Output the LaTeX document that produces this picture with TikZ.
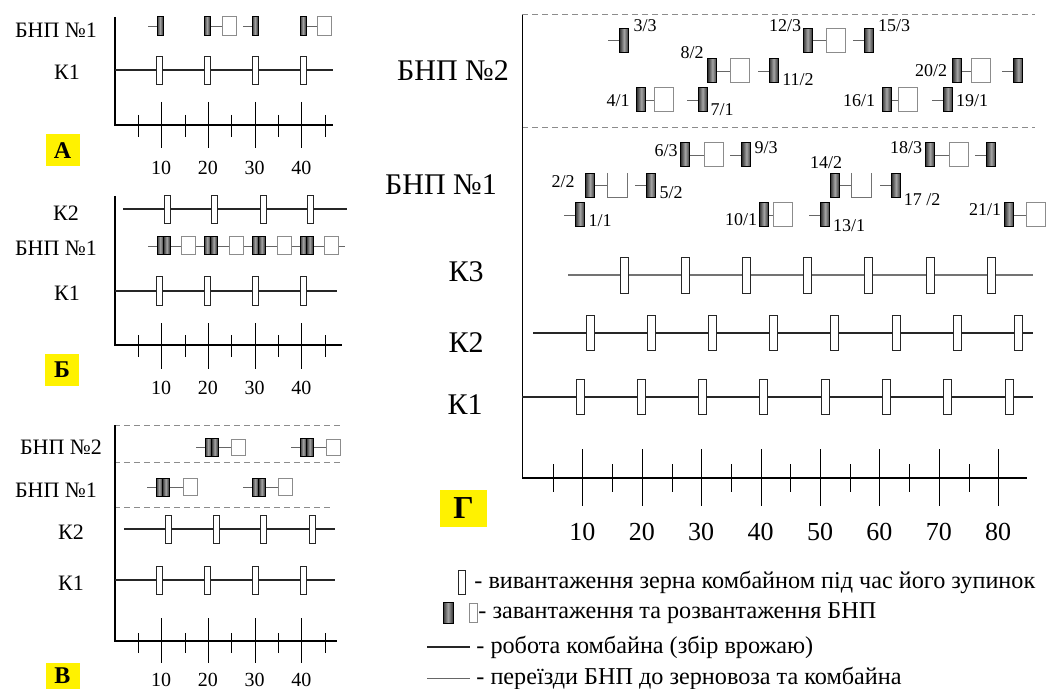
\documentclass[tikz,border=0pt]{standalone}
\usepackage{fontspec}
\setmainfont{Liberation Serif}

\begin{document}
\begin{tikzpicture}[x=0.5pt,y=-0.5pt,
  unl/.style={draw=black!85,fill=white,line width=0.5pt,minimum width=3pt,minimum height=14pt,inner sep=0pt},
  ld/.style={draw=black,line width=0.5pt,left color=black!80,right color=black!80,middle color=black!35,minimum width=3pt,minimum height=9.5pt,inner sep=0pt},
  ldd/.style={ld,minimum width=3.25pt,minimum height=9pt},
  ud/.style={draw=black!45,fill=white,line width=0.5pt,minimum width=7pt,minimum height=9.5pt,inner sep=0pt},
  unlG/.style={unl,minimum width=4pt,minimum height=17.5pt},
  ldG/.style={ld,minimum width=4.5pt,minimum height=12pt},
  udG/.style={ud,minimum width=9.5pt,minimum height=12pt},
  work/.style={line width=0.7pt,black!85},
  move/.style={line width=0.45pt,black!60},
  sep/.style={line width=0.5pt,black!45,dash pattern=on 3pt off 2pt},
  ax/.style={line width=0.75pt},
  tk/.style={line width=0.5pt},
  lbl/.style={inner sep=0pt,font=\fontsize{11}{13}\selectfont},
  lblG/.style={inner sep=0pt,font=\fontsize{15}{17}\selectfont},
  num/.style={inner sep=0pt,font=\fontsize{10}{12}\selectfont},
  numG/.style={inner sep=0pt,font=\fontsize{13}{15}\selectfont},
  sm/.style={inner sep=0pt,font=\fontsize{9}{11}\selectfont},
  leg/.style={inner sep=0pt,anchor=west,font=\fontsize{12.1}{14}\selectfont},
  tag/.style={fill=yellow,inner sep=0pt,minimum width=17pt,minimum height=16pt,font=\bfseries\fontsize{12}{14}\selectfont}]
  \useasboundingbox (0,0) rectangle (1047,689);
  % ===================== панель А =====================
  \draw[ax] (115,17) -- (115,125) -- (333,125);
  \foreach \t in {10,20,30,40} {\draw[tk] ({round(114.5+4.67*\t)+0.5},102) -- ({round(114.5+4.67*\t)+0.5},148); \node[num] (A-n\t) at ({114.5+4.67*\t},168) {\t};}
  \foreach \t in {5,15,25,35,45} \draw[tk] ({round(114.5+4.67*\t)+0.5},115) -- ({round(114.5+4.67*\t)+0.5},137);
  % комбайн К1
  \coordinate (A-k1a) at (115,70); \coordinate (A-k1b) at (333,70);
  \draw[work] (A-k1a) -- (A-k1b);
  \foreach \x [count=\i] in {159,207,255,303} \node[unl] (A-k1-\i) at (\x,71) {};
  \node[lbl] (A-lk1) at (67,72) {К1};
  % БНП №1
  \node[lbl] (A-lb1) at (56,30) {БНП №1};
  \node[ld] (A-d1) at (160,26) {};
  \node[ld] (A-d2) at (207,26) {}; \node[ud] (A-u2) at (229,26) {};
  \node[ld] (A-d3) at (255,26) {};
  \node[ld] (A-d4) at (303,26) {}; \node[ud] (A-u4) at (324,26) {};
  \draw[move] (A-d1.west) -- ++(-9,0);
  \draw[move] (A-d2) -- (A-u2);
  \draw[move] (A-d3.west) -- ++(-9,0);
  \draw[move] (A-d4) -- (A-u4);
  \node[tag] (A-tag) at (62.5,150.5) {А};
  % ===================== панель Б =====================
  \draw[ax] (115,196) -- (115,345) -- (342,345);
  \foreach \t in {10,20,30,40} {\draw[tk] ({round(114.5+4.67*\t)+0.5},323) -- ({round(114.5+4.67*\t)+0.5},369); \node[num] (B-n\t) at ({114.5+4.67*\t},388) {\t};}
  \foreach \t in {5,15,25,35,45} \draw[tk] ({round(114.5+4.67*\t)+0.5},335) -- ({round(114.5+4.67*\t)+0.5},357);
  % комбайн К2
  \coordinate (B-k2a) at (123,209); \coordinate (B-k2b) at (347,209);
  \draw[work] (B-k2a) -- (B-k2b);
  \foreach \x [count=\i] in {167,214,263,310} \node[unl] (B-k2-\i) at (\x,209.5) {};
  \node[lbl] (B-lk2) at (66,213) {К2};
  % БНП №1
  \coordinate (B-ba) at (148,246); \coordinate (B-bb) at (345,246);
  \draw[move] (B-ba) -- (B-bb);
  \foreach \x [count=\i] in {157,204,252,300} {\node[ldd] (B-d\i a) at (\x+3.25,246) {}; \node[ldd] (B-d\i b) at (\x+9.75,246) {};}
  \foreach \x [count=\i] in {188,236,284,331.5} \node[ud,minimum height=9pt] (B-u\i) at (\x,246) {};
  \node[lbl] (B-lb1) at (56,248) {БНП №1};
  % комбайн К1
  \coordinate (B-k1a) at (115,291); \coordinate (B-k1b) at (337,291);
  \draw[work] (B-k1a) -- (B-k1b);
  \foreach \x [count=\i] in {159,207,255,303} \node[unl] (B-k1-\i) at (\x,291) {};
  \node[lbl] (B-lk1) at (67,293) {К1};
  \node[tag] (B-tag) at (62,369.5) {Б};
  % ===================== панель В =====================
  \draw[sep] (114,425) -- (343,425);
  \draw[sep] (114,462) -- (343,462);
  \draw[sep] (114,507) -- (333,507);
  \draw[ax] (115,425) -- (115,641) -- (337,641);
  \foreach \t in {10,20,30,40} {\draw[tk] ({round(114.5+4.67*\t)+0.5},618) -- ({round(114.5+4.67*\t)+0.5},663); \node[num] (C-n\t) at ({114.5+4.67*\t},680) {\t};}
  \foreach \t in {5,15,25,35,45} \draw[tk] ({round(114.5+4.67*\t)+0.5},633) -- ({round(114.5+4.67*\t)+0.5},653);
  % БНП №2
  \node[lbl] (C-lb2) at (61,447) {БНП №2};
  \foreach \x/\u [count=\i] in {205/238,300/333} {
    \node[ldd] (C-e\i a) at (\x+3.25,447) {}; \node[ldd] (C-e\i b) at (\x+9.75,447) {};
    \node[ud,minimum height=8pt] (C-v\i) at (\u,447) {};
    \draw[move] (C-e\i a.west) -- ++(-9,0);
    \draw[move] (C-e\i b) -- (C-v\i);}
  % БНП №1
  \node[lbl] (C-lb1) at (56,490) {БНП №1};
  \foreach \x/\u [count=\i] in {156/190,252/285.5} {
    \node[ldd] (C-d\i a) at (\x+3.25,487) {}; \node[ldd] (C-d\i b) at (\x+9.75,487) {};
    \node[ud,minimum height=8.5pt] (C-u\i) at (\u,487) {};
    \draw[move] (C-d\i a.west) -- ++(-9,0);
    \draw[move] (C-d\i b) -- (C-u\i);}
  % комбайни К2, К1
  \coordinate (C-k2a) at (124,529); \coordinate (C-k2b) at (335,529);
  \draw[work] (C-k2a) -- (C-k2b);
  \foreach \x [count=\i] in {168,216,263,312} \node[unl] (C-k2-\i) at (\x,529) {};
  \node[lbl] (C-lk2) at (71,532) {К2};
  \coordinate (C-k1a) at (115,580); \coordinate (C-k1b) at (335,580);
  \draw[work] (C-k1a) -- (C-k1b);
  \foreach \x [count=\i] in {159,207,255,303} \node[unl] (C-k1-\i) at (\x,580) {};
  \node[lbl] (C-lk1) at (71,583) {К1};
  \node[tag,minimum height=13.5pt] (C-tag) at (62.5,676) {В};
  % ===================== панель Г =====================
  \draw[sep] (522,15) -- (1035,15);
  \draw[sep] (522,128) -- (1035,128);
  \draw[ax] (522.5,15) -- (522.5,478) -- (1027,478);
  \foreach \t in {10,20,...,80} {\draw[tk] ({round(523+5.94*\t)+0.5},449) -- ({round(523+5.94*\t)+0.5},506); \node[numG] (G-n\t) at ({523+5.94*\t},532) {\t};}
  \foreach \t in {5,15,...,75} \draw[tk] ({round(523+5.94*\t)+0.5},464) -- ({round(523+5.94*\t)+0.5},492);
  % комбайни К3, К2, К1
  \coordinate (G-k3a) at (568,275); \coordinate (G-k3b) at (1033,275);
  \draw[work,black!55] (G-k3a) -- (G-k3b);
  \foreach \i in {0,...,6} \node[unlG] (G-k3-\i) at ({624+61.2*\i},275.5) {};
  \coordinate (G-k2a) at (533,333); \coordinate (G-k2b) at (1033,333);
  \draw[work] (G-k2a) -- (G-k2b);
  \foreach \i in {0,...,7} \node[unlG] (G-k2-\i) at ({590+61.2*\i},333) {};
  \coordinate (G-k1a) at (522,397); \coordinate (G-k1b) at (1033,397);
  \draw[work] (G-k1a) -- (G-k1b);
  \foreach \i in {0,...,7} \node[unlG] (G-k1-\i) at ({580+61.3*\i},397) {};
  \node[lblG] (G-lk3) at (466,272) {К3};
  \node[lblG] (G-lk2) at (466,343) {К2};
  \node[lblG] (G-lk1) at (465,405) {К1};
  % БНП №2
  \node[lblG] (G-lb2) at (453,71) {БНП №2};
  \node[ldG] (G-d33) at (624,40.5) {};
  \node[ldG] (G-d123) at (807.6,40.5) {}; \node[udG] (G-u123) at (836,40.5) {};
  \node[ldG] (G-d153) at (868.8,40.5) {};
  \node[ldG] (G-d82) at (712.4,71) {}; \node[udG] (G-u82) at (740,71) {};
  \node[ldG] (G-d112) at (773.6,71) {};
  \node[ldG] (G-d202) at (957.2,71) {}; \node[udG] (G-u202) at (980.5,71) {};
  \node[ldG] (G-d232) at (1018.4,71) {};
  \node[ldG] (G-d41) at (641.3,100) {}; \node[udG] (G-u41) at (664,100) {};
  \node[ldG] (G-d71) at (702.6,100) {};
  \node[ldG] (G-d161) at (886.5,100) {}; \node[udG] (G-u161) at (908,100) {};
  \node[ldG] (G-d191) at (947.8,100) {};
  \foreach \n in {33,153,112,232,71,191} \draw[move] (G-d\n.west) -- ++(-11,0);
  \foreach \n in {123,82,202,41,161} \draw[move] (G-d\n) -- (G-u\n);
  \node[sm] (G-t33) at (645,26) {3/3};
  \node[sm] (G-t123) at (785,26) {12/3};
  \node[sm] (G-t153) at (894,26) {15/3};
  \node[sm] (G-t82) at (692,53) {8/2};
  \node[sm] (G-t112) at (798,80) {11/2};
  \node[sm] (G-t202) at (931,71) {20/2};
  \node[sm] (G-t41) at (618,101) {4/1};
  \node[sm] (G-t71) at (722,110) {7/1};
  \node[sm] (G-t161) at (859,101) {16/1};
  \node[sm] (G-t191) at (972,101) {19/1};
  % БНП №1
  \node[lblG] (G-lb1) at (441,185) {БНП №1};
  \node[ldG] (G-d63) at (685.2,155) {}; \node[udG] (G-u63) at (713.5,155) {};
  \node[ldG] (G-d93) at (746.4,155) {};
  \node[ldG] (G-d183) at (930,155) {}; \node[udG] (G-u183) at (958.5,155) {};
  \node[ldG] (G-d213) at (991.2,155) {};
  \node[ldG] (G-d22) at (590,185.5) {}; \node[udG,draw=none] (G-u22) at (617,185.5) {};
  \node[ldG] (G-d52) at (651.2,185.5) {};
  \node[ldG] (G-d142) at (834.8,185.5) {}; \node[udG,draw=none] (G-u142) at (861.5,185.5) {};
  \node[ldG] (G-d172) at (896,185.5) {};
  \node[ldG] (G-d11) at (580,215) {};
  \node[ldG] (G-d101) at (763.9,215) {}; \node[udG] (G-u101) at (783,215) {};
  \node[ldG] (G-d131) at (825.2,215) {};
  \node[ldG] (G-d211) at (1009.1,215) {}; \node[udG] (G-u211) at (1036,215) {};
  \foreach \n in {93,213,52,172,11,131} \draw[move] (G-d\n.west) -- ++(-11,0);
  \foreach \n in {63,183,22,142,101,211} \draw[move] (G-d\n) -- (G-u\n);
  % порожній кузов (без верху)
  \foreach \n in {22,142} \draw[line width=0.5pt,black!55] (G-u\n.north west) -- (G-u\n.south west) -- (G-u\n.south east) -- (G-u\n.north east);
  \node[sm] (G-t63) at (666,151) {6/3};
  \node[sm] (G-t93) at (766,148) {9/3};
  \node[sm] (G-t183) at (906,148) {18/3};
  \node[sm] (G-t22) at (563,182) {2/2};
  \node[sm] (G-t52) at (671,193) {5/2};
  \node[sm] (G-t142) at (826,163) {14/2};
  \node[sm] (G-t172) at (922,200) {17 /2};
  \node[sm] (G-t11) at (600,221) {1/1};
  \node[sm] (G-t101) at (741,220) {10/1};
  \node[sm] (G-t131) at (849,226) {13/1};
  \node[sm] (G-t211) at (985,210) {21/1};
  \node[tag,minimum width=23.5pt,minimum height=18.5pt,font=\bfseries\fontsize{16}{18}\selectfont] (G-tag) at (463.5,508.5) {Г};
  % ===================== умовні позначення =====================
  \node[unl,minimum width=3.5pt,minimum height=12pt] (L-i1) at (462,582) {};
  \node[leg] (L-t1) at (474,582) {- вивантаження зерна комбайном під час його зупинок};
  \node[ld,minimum width=5pt,minimum height=10.5pt] (L-i2a) at (448,613) {};
  \node[ud,minimum width=4pt,minimum height=9.5pt] (L-i2b) at (473,613) {};
  \node[leg] (L-t2) at (478,613) {- завантаження та розвантаження БНП};
  \coordinate (L-a3) at (427,647); \coordinate (L-b3) at (470,647);
  \draw[work] (L-a3) -- (L-b3);
  \node[leg] (L-t3) at (476,647) {- робота комбайна (збір врожаю)};
  \coordinate (L-a4) at (427,678); \coordinate (L-b4) at (470,678);
  \draw[move] (L-a4) -- (L-b4);
  \node[leg] (L-t4) at (476,678) {- переїзди БНП до зерновоза та комбайна};
\end{tikzpicture}
\end{document}
